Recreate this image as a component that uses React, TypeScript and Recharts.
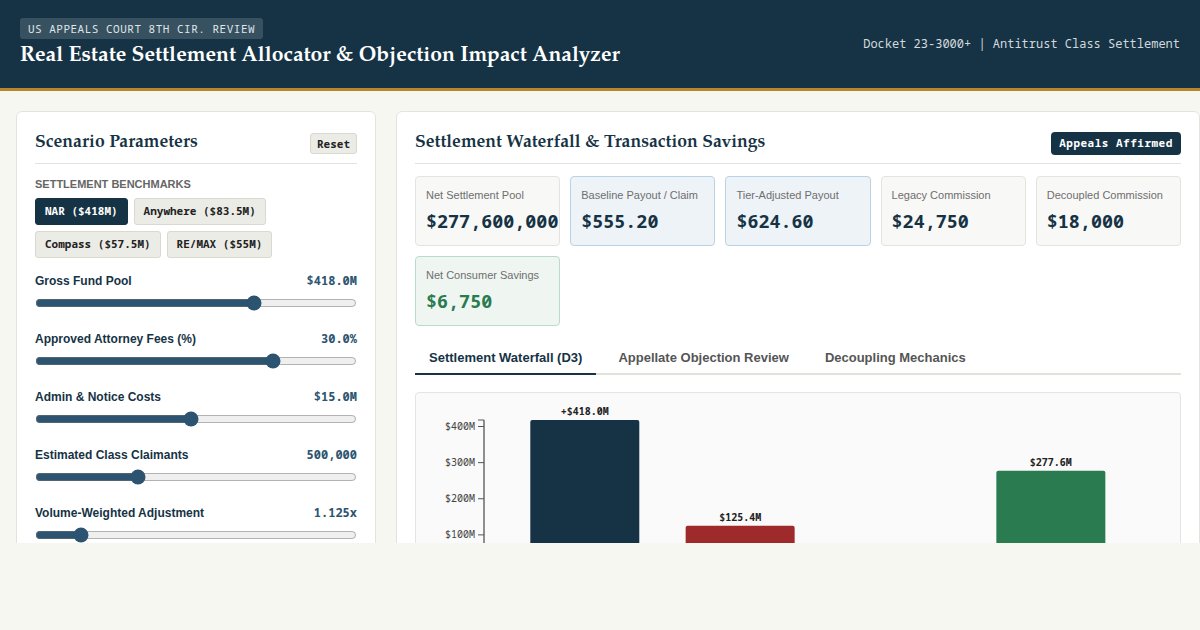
import React from 'react';
import { BarChart, Bar, XAxis, YAxis, Cell, LabelList } from 'recharts';

const NAVY = '#163345';
const STEEL = '#2c5470';
const SERIF = '"Palatino Linotype", Palatino, "P052", "TeX Gyre Pagella", "Liberation Serif", serif';
const MONO = '"Noto Sans Mono", "DejaVu Sans Mono", monospace';
const SANS = '"Liberation Sans", Arial, sans-serif';

// waterfall, the page cuts off below $100M so the axis captions and the small bar's label never show
const categories = ['Gross Fund', 'Attorney Fees', 'Admin & Notice', 'Net Settlement'];
const amounts = [418, 125.4, 15, 277.6];
const amountLabels = ['+$418.0M', '$125.4M', '', '$277.6M'];
const barColors = [NAVY, '#9e2a2b', '#b7862b', '#2a7b4f'];
const yTicks = [100, 200, 300, 400, 418];

const waterfall = categories.map((name, i) => ({ name, amount: amounts[i], label: amountLabels[i] }));

// sidebar
const benchmarks = [['NAR ($418M)', 'Anywhere ($83.5M)'], ['Compass ($57.5M)', 'RE/MAX ($55M)']];
const sliderNames = ['Gross Fund Pool', 'Approved Attorney Fees (%)', 'Admin & Notice Costs', 'Estimated Class Claimants', 'Volume-Weighted Adjustment'];
const sliderTexts = ['$418.0M', '30.0%', '$15.0M', '500,000', '1.125x'];
const sliderValues = [418, 30, 15, 500000, 1.125];
const sliderMins = [15, 0, 1, 50000, 1];
const sliderMaxes = [600, 40, 30, 1500000, 2];
const sliderSteps = [0.5, 0.5, 0.5, 1000, 0.005];

// metric cards
const kpiNames = ['Net Settlement Pool', 'Baseline Payout / Claim', 'Tier-Adjusted Payout', 'Legacy Commission', 'Decoupled Commission', 'Net Consumer Savings'];
const kpiValues = ['$277,600,000', '$555.20', '$624.60', '$24,750', '$18,000', '$6,750'];
const kpiKinds = ['plain', 'blue', 'blue', 'plain', 'plain', 'green'];
const tabNames = ['Settlement Waterfall (D3)', 'Appellate Objection Review', 'Decoupling Mechanics'];

const kpiStyles: Record<string, { background: string; borderColor: string; color: string }> = {
  plain: { background: '#f8f8f6', borderColor: '#e4e4de', color: NAVY },
  blue: { background: '#eef3f8', borderColor: '#b9d2e6', color: NAVY },
  green: { background: '#eff6f2', borderColor: '#b9dcc8', color: '#2a7b4f' },
};

function CardHeader({ title, children }: { title: string; children: React.ReactNode }) {
  return (
    <div style={{ display: 'flex', justifyContent: 'space-between', alignItems: 'flex-start', height: 51, borderBottom: '1px solid #e4e4de' }}>
      <div style={{ fontFamily: SERIF, fontSize: 17.6, fontWeight: 700, color: NAVY, marginTop: 19, position: 'relative', top: 3 }}>{title}</div>
      {children}
    </div>
  );
}

function Sidebar() {
  return (
    <div style={{ position: 'absolute', left: 16, top: 111, width: 360, height: 500, boxSizing: 'border-box', padding: '0 18px', background: '#fff', border: '1px solid #e4e4de', borderRadius: 6 }}>
      <CardHeader title="Scenario Parameters">
        <div style={{ marginTop: 21, height: 21, width: 47, boxSizing: 'border-box', textAlign: 'center', lineHeight: '19px', fontFamily: MONO, fontSize: 11, fontWeight: 700, color: '#222', background: '#ecece6', border: '1px solid #d9d9d0', borderRadius: 3 }}>Reset</div>
      </CardHeader>
      <div style={{ marginTop: 13, fontFamily: SANS, fontSize: 11, fontWeight: 700, color: '#666', height: 14, lineHeight: '14px' }}>SETTLEMENT BENCHMARKS</div>
      {benchmarks.map((row, r) => (
        <div key={r} style={{ display: 'flex', gap: 6, marginTop: r === 0 ? 7 : 6 }}>
          {row.map((b) => {
            const active = b.startsWith('NAR');
            return (
              <div key={b} style={{ height: 27, boxSizing: 'border-box', padding: '0 9px', lineHeight: '24px', fontFamily: MONO, fontSize: 11, fontWeight: 700, color: active ? '#fff' : '#222', background: active ? NAVY : '#ecece6', border: `1px solid ${active ? NAVY : '#d9d9d0'}`, borderRadius: 3 }}>{b}</div>
            );
          })}
        </div>
      ))}
      <div style={{ marginTop: 15 }}>
        {sliderNames.map((name, i) => (
          <div key={name} style={{ height: 58 }}>
            <div style={{ display: 'flex', justifyContent: 'space-between', height: 16, lineHeight: '16px' }}>
              <span style={{ fontFamily: SANS, fontSize: 12, fontWeight: 700, color: NAVY }}>{name}</span>
              <span style={{ fontFamily: MONO, fontSize: 12, fontWeight: 700, color: STEEL }}>{sliderTexts[i]}</span>
            </div>
            <input
              type="range"
              readOnly
              min={sliderMins[i]}
              max={sliderMaxes[i]}
              step={sliderSteps[i]}
              value={sliderValues[i]}
              style={{ display: 'block', width: 322, height: 16, margin: '6px 0 0 0', accentColor: STEEL }}
            />
          </div>
        ))}
      </div>
    </div>
  );
}

function WaterfallChart() {
  return (
    <BarChart width={763} height={218} data={waterfall} margin={{ top: 27, right: 27, bottom: 10, left: 0 }} style={{ fontFamily: MONO }}>
      <XAxis dataKey="name" height={30} padding={{ left: 23.3, right: 23.3 }} tick={false} tickLine={false} axisLine={{ stroke: '#222' }} />
      <YAxis
        width={68}
        domain={[0, 418]}
        ticks={yTicks}
        interval={0}
        tickSize={6}
        tickMargin={3}
        tick={{ fontSize: 10, fill: '#444' }}
        tickLine={{ stroke: '#555' }}
        axisLine={{ stroke: '#222' }}
        tickFormatter={(v: number) => (v === 418 ? '' : `$${v}M`)}
      />
      <Bar dataKey="amount" barSize={109} radius={2} isAnimationActive={false}>
        {waterfall.map((d, i) => (
          <Cell key={d.name} fill={barColors[i]} />
        ))}
        <LabelList dataKey="label" position="top" offset={5} style={{ fontSize: 10, fontWeight: 700, fill: '#222', fontFamily: MONO }} />
      </Bar>
    </BarChart>
  );
}

function MainPanel() {
  return (
    <div style={{ position: 'absolute', left: 396, top: 111, width: 804, height: 500, boxSizing: 'border-box', padding: '0 18px', background: '#fff', border: '1px solid #e4e4de', borderRadius: 6 }}>
      <CardHeader title="Settlement Waterfall &amp; Transaction Savings">
        <div style={{ marginTop: 20, height: 23, width: 130, boxSizing: 'border-box', textAlign: 'center', lineHeight: '21px', fontFamily: MONO, fontSize: 11, fontWeight: 700, letterSpacing: 0.5, color: '#fff', background: NAVY, borderRadius: 4 }}>Appeals Affirmed</div>
      </CardHeader>
      <div style={{ display: 'grid', gridTemplateColumns: 'repeat(5, 145.2px)', gap: 10, marginTop: 12 }}>
        {kpiNames.map((name, i) => {
          const kind = kpiStyles[kpiKinds[i]];
          return (
            <div key={name} style={{ height: 70, boxSizing: 'border-box', padding: '11px 10px', background: kind.background, border: `1px solid ${kind.borderColor}`, borderRadius: 4 }}>
              <div style={{ fontFamily: SANS, fontSize: 11, color: '#6e6e6e', lineHeight: '14px' }}>{name}</div>
              <div style={{ fontFamily: MONO, fontSize: 18.4, fontWeight: 700, color: kind.color, marginTop: 7, lineHeight: '24px', whiteSpace: 'nowrap' }}>{kpiValues[i]}</div>
            </div>
          );
        })}
      </div>
      <div style={{ display: 'flex', gap: 8, marginTop: 16, height: 31, borderBottom: '2px solid #e2e2dc' }}>
        {tabNames.map((t, i) => (
          <div key={t} style={{ padding: '0 14px', height: 33, lineHeight: '31px', boxSizing: 'border-box', fontFamily: SANS, fontSize: 13, fontWeight: 700, color: i === 0 ? NAVY : '#555', borderBottom: i === 0 ? `2px solid ${NAVY}` : 'none' }}>{t}</div>
        ))}
      </div>
      <div style={{ marginTop: 17, width: 766, height: 240, boxSizing: 'border-box', background: '#fafafa', border: '1px solid #e4e4e4', borderRadius: 4 }}>
        <WaterfallChart />
      </div>
    </div>
  );
}

export default function App() {
  return (
    <div style={{ position: 'absolute', left: 0, top: 0, width: 1200, height: 630, overflow: 'hidden', background: '#f7f7f2' }}>
      <div style={{ height: 88, background: NAVY, borderBottom: '3px solid #b7862b', position: 'relative' }}>
        <div style={{ position: 'absolute', left: 20, top: 18, height: 21, width: 243, textAlign: 'center', lineHeight: '21px', fontFamily: MONO, fontSize: 11, letterSpacing: 0.5, color: '#dfe5e8', background: 'rgba(255,255,255,0.15)', borderRadius: 3 }}>US APPEALS COURT 8TH CIR. REVIEW</div>
        <div style={{ position: 'absolute', left: 20, top: 41, fontFamily: SERIF, fontSize: 21.15, fontWeight: 700, color: '#fff', lineHeight: '30px', whiteSpace: 'nowrap' }}>Real Estate Settlement Allocator &amp; Objection Impact Analyzer</div>
        <div style={{ position: 'absolute', right: 20, top: 36, fontFamily: MONO, fontSize: 12, color: '#d3d9dc', lineHeight: '16px' }}>Docket 23-3000+ | Antitrust Class Settlement</div>
      </div>
      <div style={{ position: 'absolute', left: 0, top: 91, width: 1200, height: 452, overflow: 'hidden' }}>
        <div style={{ position: 'absolute', left: 0, top: -91, width: 1200, height: 630 }}>
          <Sidebar />
          <MainPanel />
        </div>
      </div>
    </div>
  );
}
